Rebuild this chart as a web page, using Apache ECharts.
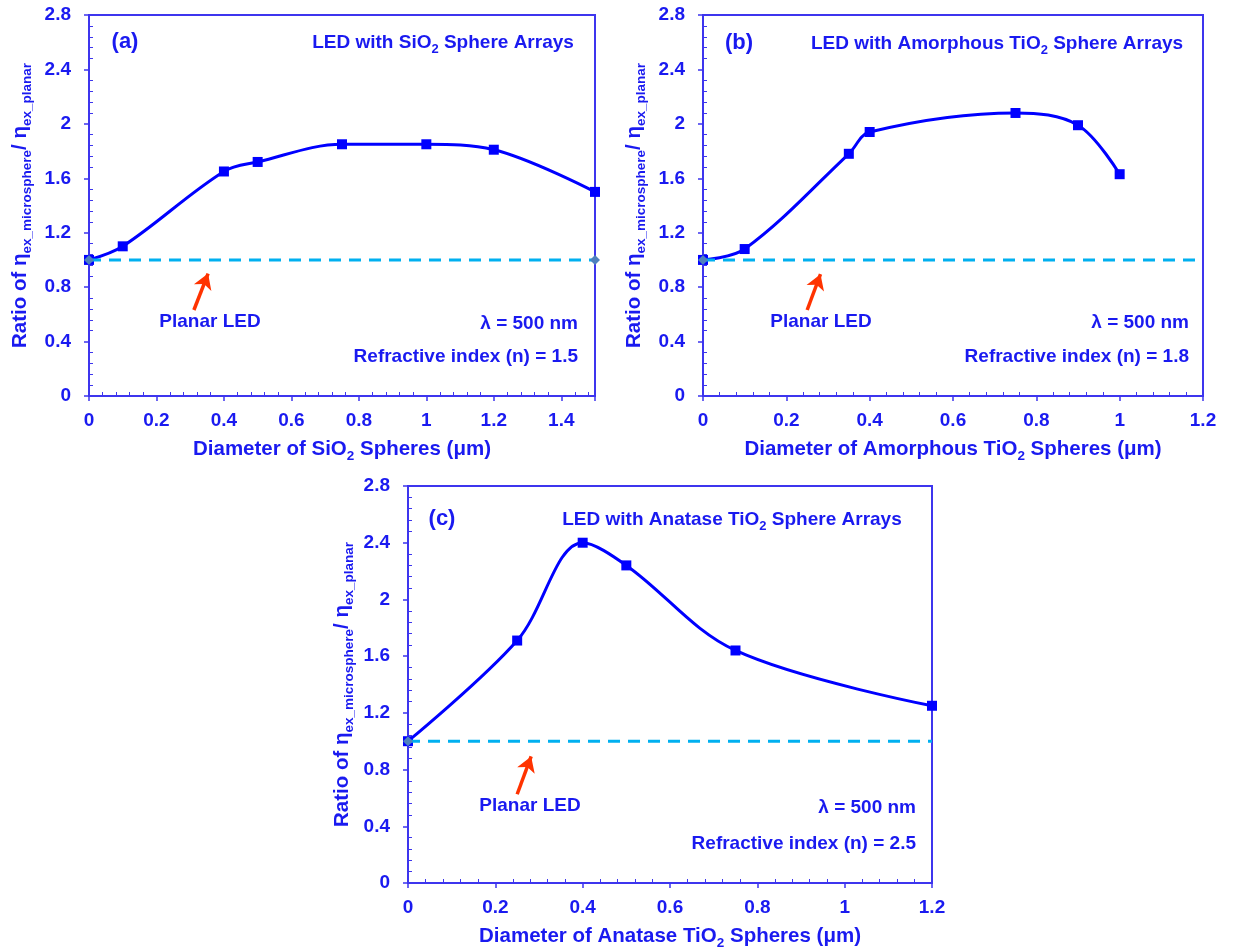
<!DOCTYPE html>
<html>
<head>
<meta charset="utf-8">
<script src="https://cdn.jsdelivr.net/npm/echarts@6/dist/echarts.min.js"></script>
<style>
  html, body { margin: 0; padding: 0; background: #ffffff; }
  #chart { width: 1233px; height: 951px; }
</style>
</head>
<body>
<div id="chart"></div>
<script>
// Sphere diameters (µm) and measured extraction-efficiency ratios
const sio2Diameter = [0, 0.1, 0.4, 0.5, 0.75, 1.0, 1.2, 1.5];
const sio2Ratio = [1.00, 1.10, 1.65, 1.72, 1.85, 1.85, 1.81, 1.50];

const amorphousDiameter = [0, 0.1, 0.35, 0.4, 0.75, 0.9, 1.0];
const amorphousRatio = [1.00, 1.08, 1.78, 1.94, 2.08, 1.99, 1.63];

const anataseDiameter = [0, 0.25, 0.4, 0.5, 0.75, 1.2];
const anataseRatio = [1.00, 1.71, 2.40, 2.24, 1.64, 1.25];

// Planar LED reference level (ratio = 1)
const planarRatio = 1.0;

// Axis ranges
const yMin = 0, yMax = 2.8, yStep = 0.4;
const xStep = 0.2;
const xMaxSiO2 = 1.5, xMaxTiO2 = 1.2;

// Refractive indices of the sphere materials
const refractiveIndex = ['1.5', '1.8', '2.5'];

const FONT = 'Liberation Sans, Arial, sans-serif';
const TEXT = '#1a1af0';
const AXIS = '#3d35ee';
const CURVE = '#0000ff';
const DASH = '#00b0f0';
const ARROW = '#ff3300';

const panels = [
  {
    grid: { left: 89, top: 15, width: 506, height: 381 },
    xMax: xMaxSiO2, xs: sio2Diameter, ys: sio2Ratio,
    xName: 'Diameter of SiO{s|2} Spheres (μm)', yNameGap: 55,
    title: 'LED with SiO{s|2} Sphere Arrays', letter: '(a)', n: refractiveIndex[0],
    letterPos: [125, 42], titlePos: [443, 43], infoRight: 578, infoY: [324, 357],
    planarPos: [210, 322],
    arrow: [[0.311, 0.632], [0.353, 0.90]], endMarker: true
  },
  {
    grid: { left: 703, top: 15, width: 500, height: 381 },
    xMax: xMaxTiO2, xs: amorphousDiameter, ys: amorphousRatio,
    xName: 'Diameter of Amorphous TiO{s|2} Spheres (μm)', yNameGap: 55,
    title: 'LED with Amorphous TiO{s|2} Sphere Arrays', letter: '(b)', n: refractiveIndex[1],
    letterPos: [739, 43], titlePos: [997, 44], infoRight: 1189, infoY: [323, 357],
    planarPos: [821, 322],
    arrow: [[0.25, 0.632], [0.282, 0.895]], endMarker: false
  },
  {
    grid: { left: 408, top: 486, width: 524, height: 398 },
    xMax: xMaxTiO2, xs: anataseDiameter, ys: anataseRatio,
    xName: 'Diameter of Anatase TiO{s|2} Spheres (μm)', yNameGap: 52,
    title: 'LED with Anatase TiO{s|2} Sphere Arrays', letter: '(c)', n: refractiveIndex[2],
    letterPos: [442, 519], titlePos: [732, 520], infoRight: 916, infoY: [808, 844],
    planarPos: [530, 806],
    arrow: [[0.25, 0.626], [0.282, 0.893]], endMarker: false
  }
];

const subRich = {
  s: { fontSize: 13.5, fontWeight: 'bold', fontFamily: FONT, color: TEXT, verticalAlign: 'bottom', lineHeight: 13 }
};

const grids = [], xAxes = [], yAxes = [], series = [], graphics = [];

panels.forEach((p, i) => {
  grids.push(Object.assign({
    show: true, borderColor: AXIS, borderWidth: 2, backgroundColor: 'transparent'
  }, p.grid));

  const common = {
    gridIndex: i, type: 'value',
    axisLine: { show: true, onZero: false, lineStyle: { color: AXIS, width: 2 } },
    axisTick: { show: true, length: 5, lineStyle: { color: AXIS, width: 1.5 } },
    minorTick: { show: true, splitNumber: 5, length: -4, lineStyle: { color: AXIS, width: 1 } },
    splitLine: { show: false },
    minorSplitLine: { show: false }
  };

  xAxes.push(Object.assign({}, common, {
    min: 0, max: p.xMax, interval: xStep,
    axisLabel: {
      color: TEXT, fontSize: 19, fontWeight: 'bold', fontFamily: FONT, margin: 15,
      showMaxLabel: p.xMax === xMaxTiO2
    },
    name: p.xName, nameLocation: 'middle', nameGap: 40,
    nameTextStyle: {
      color: TEXT, fontSize: 20.5, fontWeight: 'bold', fontFamily: FONT, lineHeight: 27,
      rich: subRich
    }
  }));

  yAxes.push(Object.assign({}, common, {
    min: yMin, max: yMax, interval: yStep,
    axisLabel: { color: TEXT, fontSize: 19, fontWeight: 'bold', fontFamily: FONT, margin: 18 },
    name: 'Ratio of η{s|ex_microsphere}/ η{s|ex_planar}',
    nameLocation: 'middle', nameGap: p.yNameGap, nameRotate: 90,
    nameTextStyle: {
      color: TEXT, fontSize: 20.5, fontWeight: 'bold', fontFamily: FONT, lineHeight: 27,
      rich: subRich
    }
  }));

  // Measured ratio curve
  series.push({
    type: 'line', xAxisIndex: i, yAxisIndex: i,
    data: p.xs.map((x, k) => [x, p.ys[k]]),
    smooth: 0.35,
    symbol: 'rect', symbolSize: 10,
    lineStyle: { color: CURVE, width: 3 },
    itemStyle: { color: CURVE },
    z: 3
  });

  // Planar LED reference (dashed) with the pointing arrow
  const endMarker = p.endMarker;
  series.push({
    type: 'line', xAxisIndex: i, yAxisIndex: i,
    data: [[0, planarRatio], [p.xMax, planarRatio]],
    symbol: (v, params) => (params.dataIndex === 0 || endMarker) ? 'diamond' : 'none',
    symbolSize: 10,
    itemStyle: { color: '#4f81bd' },
    lineStyle: { color: DASH, width: 3, type: [12, 8] },
    z: 4,
    markLine: {
      silent: true,
      symbol: ['none', 'arrow'],
      symbolSize: [14, 15],
      lineStyle: { color: ARROW, width: 3.5, type: 'solid' },
      label: { show: false },
      emphasis: { disabled: true },
      data: [[{ coord: p.arrow[0] }, { coord: p.arrow[1] }]]
    }
  });

  const textEl = (text, x, y, align, size) => ({
    type: 'text', silent: true, z: 10,
    style: {
      text, x, y, align, verticalAlign: 'middle',
      font: 'bold ' + size + 'px ' + FONT, fill: TEXT, lineHeight: 25,
      rich: { s: { fontSize: 13, fontWeight: 'bold', fontFamily: FONT, fill: TEXT, verticalAlign: 'bottom', lineHeight: 13 } }
    }
  });

  graphics.push(textEl(p.letter, p.letterPos[0], p.letterPos[1], 'center', 22));
  graphics.push(textEl(p.title, p.titlePos[0], p.titlePos[1], 'center', 19));
  graphics.push(textEl('λ = 500 nm', p.infoRight, p.infoY[0], 'right', 19));
  graphics.push(textEl('Refractive index (n) = ' + p.n, p.infoRight, p.infoY[1], 'right', 19));
  graphics.push(textEl('Planar LED', p.planarPos[0], p.planarPos[1], 'center', 19));
});

const chart = echarts.init(document.getElementById('chart'), null, { renderer: 'canvas' });
chart.setOption({
  animation: false,
  backgroundColor: '#ffffff',
  grid: grids,
  xAxis: xAxes,
  yAxis: yAxes,
  series: series,
  graphic: graphics
});
</script>
</body>
</html>
